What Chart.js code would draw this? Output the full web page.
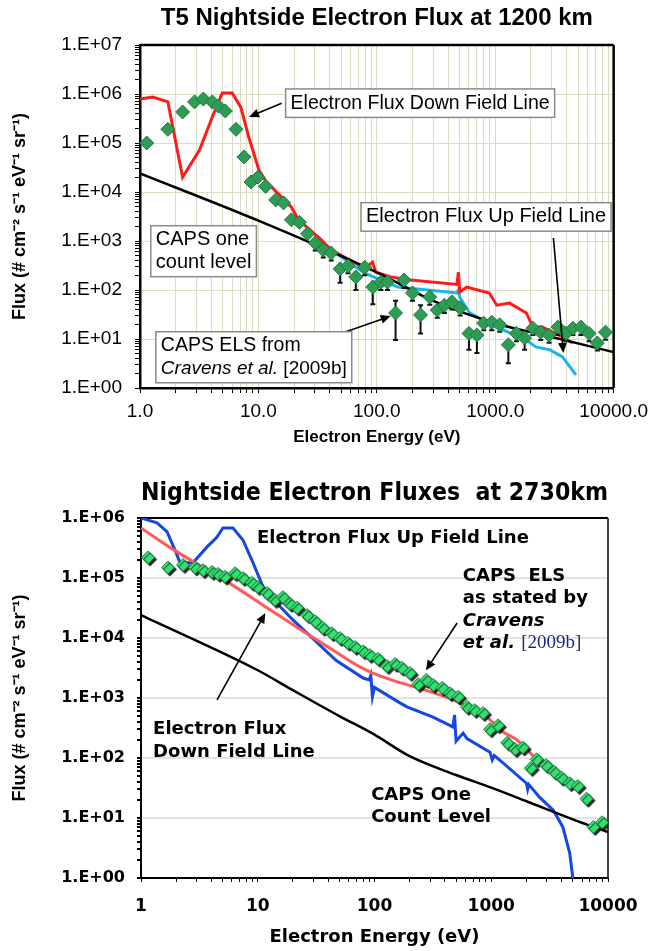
<!DOCTYPE html>
<html lang="en">
<head>
<meta charset="UTF-8">
<title>Nightside electron flux</title>
<style>
  html, body { margin: 0; padding: 0; background: #fff; }
  body { width: 655px; height: 951px; position: relative; overflow: hidden; }
  .panel { position: absolute; left: 0; width: 655px; }
  #top { top: 0; height: 460px; }
  #bottom { top: 460px; height: 491px; }
</style>
</head>
<body>
<div class="panel" id="top"><canvas id="t5Chart" width="655" height="460"></canvas></div>
<div class="panel" id="bottom"><canvas id="n2730Chart" width="655" height="491"></canvas></div>
<script src="https://cdn.jsdelivr.net/npm/chart.js"></script>
<script>
// ---- top panel: T5 at 1200 km ----
const t5XTickLabels = ['1.0', '10.0', '100.0', '1000.0', '10000.0'];
const t5YTickLabels = ['1.E+00', '1.E+01', '1.E+02', '1.E+03', '1.E+04', '1.E+05', '1.E+06', '1.E+07'];

const t5DownE = [1.0, 1.28, 1.72, 2.29, 3.18, 4.08, 4.95, 6.0, 7.1, 8.3, 10.1, 11.5, 19.0, 21.8, 34, 41, 79, 92, 98, 131, 192, 475, 488, 502, 575, 890, 1030, 1320, 1830, 2080, 2500, 3700, 4500];
const t5DownFlux = [7.9e5, 8.7e5, 6.9e5, 2.0e4, 7.2e4, 3.4e5, 1.05e6, 1.05e6, 5.4e5, 1.3e5, 2.8e4, 1.7e4, 4.9e3, 2.7e3, 1.05e3, 6.6e2, 2.8e2, 3.7e2, 2.3e2, 1.85e2, 1.6e2, 1.3e2, 2.3e2, 9.1e1, 1.15e2, 8.7e1, 4.9e1, 5.4e1, 3.4e1, 1.75e1, 1.75e1, 1.1e1, 8.3];

const t5UpE = [39, 79, 150, 475, 488, 502, 610, 1030, 1830, 2200, 2900, 3700, 4800];
const t5UpFlux = [7.2e2, 2.2e2, 1.15e2, 8.7e1, 1.0e2, 7.0e1, 3.4e1, 1.75e1, 9.5, 6.9, 6.0, 4.3, 1.85];

const t5CountE = [1, 10, 100, 300, 1000, 3000, 10000];
const t5CountFlux = [2.4e4, 2.6e3, 2.3e2, 6.0e1, 2.1e1, 1.1e1, 5.4];

const t5ElsE = [1.14, 1.72, 2.29, 2.89, 3.43, 4.08, 4.58, 5.25, 6.47, 7.56, 8.66, 9.9, 11.5, 14.0, 16.3, 19.0, 22.2, 26.0, 30.2, 35.3, 41.2, 49, 57, 66.5, 79, 92.5, 108, 123, 144, 170, 200, 234, 280, 324, 372, 432, 505, 600, 700, 800, 935, 1090, 1290, 1510, 1770, 2080, 2420, 2850, 3380, 3960, 4530, 5290, 6200, 7280, 8530];
const t5ElsFlux = [1.0e5, 1.9e5, 4.3e5, 6.9e5, 7.9e5, 6.9e5, 5.7e5, 4.5e5, 1.9e5, 5.2e4, 1.6e4, 2.0e4, 1.3e4, 6.9e3, 6.0e3, 2.7e3, 2.4e3, 1.4e3, 9.1e2, 6.6e2, 5.7e2, 2.7e2, 3.1e2, 1.85e2, 2.9e2, 1.15e2, 1.45e2, 1.45e2, 3.4e1, 1.6e2, 8.7e1, 3.1e1, 7.2e1, 3.9e1, 4.9e1, 5.7e1, 4.3e1, 1.3e1, 1.2e1, 2.1e1, 2.2e1, 1.95e1, 7.6, 1.3e1, 1.05e1, 1.66e1, 1.38e1, 1.2e1, 1.75e1, 1.3e1, 1.66e1, 1.75e1, 1.3e1, 8.3, 1.38e1];
// error bar ends (null = none)
const t5ElsLow = [null, null, null, null, null, null, null, null, null, null, null, null, null, null, null, null, null, null, 6.4e2, 4.6e2, 4.0e2, 1.4e2, 2.2e2, 1.0e2, 2.0e2, 5.1e1, 1.0e2, 1.0e2, 9.5, 1.1e2, 6.0e1, 1.3e1, 5.0e1, 2.7e1, 3.4e1, 4.0e1, 3.0e1, 6.0, 5.2, 1.5e1, 1.5e1, 1.4e1, 3.2, 9.0, 6.0, 1.2e1, 9.5, 8.4, 1.2e1, 9.0, 1.2e1, 1.2e1, 9.0, 5.8, 9.7];
const t5ElsHigh = [null, null, null, null, null, null, null, null, null, null, null, null, null, null, null, null, null, null, null, null, null, null, null, null, null, null, null, null, 6.0e1, null, null, 4.9e1, null, null, null, null, null, null, null, null, null, null, null, null, null, null, null, null, null, null, null, null, null, null, null];

// ---- bottom panel: 2730 km ----
const n2XTickLabels = ['1', '10', '100', '1000', '10000'];
const n2YTickLabels = ['1.E+00', '1.E+01', '1.E+02', '1.E+03', '1.E+04', '1.E+05', '1.E+06'];

const n2UpE = [1, 1.37, 1.67, 1.95, 2.16, 2.79, 3.68, 4.48, 5.03, 6.14, 7.47, 9.1, 11.1, 14.6, 20, 30, 47, 80, 90, 93, 96, 100, 165, 190, 317, 470, 485, 500, 574, 620, 975, 1020, 1060, 1260, 2000, 2050, 2100, 2600, 3400, 4100, 4700, 5000, 5100];
const n2UpFlux = [1.0e6, 8.3e5, 5.9e5, 2.95e5, 1.8e5, 1.8e5, 3.3e5, 4.8e5, 6.8e5, 6.8e5, 4.3e5, 1.8e5, 7.1e4, 3.8e4, 2.0e4, 9.6e3, 4.2e3, 2.15e3, 2.0e3, 2.4e3, 1.05e3, 1.5e3, 8.3e2, 7.1e2, 4.8e2, 3.3e2, 5.2e2, 1.9e2, 2.6e2, 2.1e2, 1.25e2, 9.3e1, 1.1e2, 8.3e1, 3.8e1, 3.0e1, 3.6e1, 2.2e1, 1.35e1, 7.1, 2.6, 1.0, 0.7];

const n2DownE = [1, 1.88, 5.45, 12, 23, 44, 75, 97, 165, 230, 470, 920, 1200, 1660, 2270, 3850, 5800];
const n2DownFlux = [6.8e5, 3.0e5, 8.7e4, 3.2e4, 1.4e4, 6.3e3, 3.3e3, 2.6e3, 1.8e3, 1.5e3, 9.3e2, 4.8e2, 2.9e2, 2.0e2, 1.1e2, 4.8e1, 2.9e1];

const n2CountE = [1, 10, 20, 50, 100, 200, 500, 1000, 2000, 5000, 10000];
const n2CountFlux = [2.4e4, 2.9e3, 1.35e3, 5.0e2, 2.45e2, 1.07e2, 5.2e1, 3.2e1, 1.9e1, 9.5, 5.8];

const n2ElsE = [1.15, 1.70, 2.29, 2.9, 3.4, 4.05, 4.57, 5.24, 6.38, 7.47, 8.9, 10, 12, 14, 16.4, 18.9, 21.7, 26.5, 31, 36, 43, 50.5, 59, 68, 80, 91, 107, 128, 150, 171, 201, 237, 277, 318, 380, 443, 520, 620, 720, 850, 975, 1140, 1370, 1600, 1860, 2180, 2450, 2950, 3460, 4000, 4700, 5500, 6550, 7500, 8900];
const n2ElsFlux = [2.2e5, 1.5e5, 1.65e5, 1.5e5, 1.35e5, 1.26e5, 1.17e5, 1.05e5, 1.2e5, 1.0e5, 8.3e4, 7.1e4, 5.6e4, 4.3e4, 4.8e4, 3.7e4, 3.2e4, 2.4e4, 1.9e4, 1.48e4, 1.2e4, 1.0e4, 8.3e3, 7.1e3, 6.0e3, 5.2e3, 4.5e3, 3.4e3, 3.7e3, 3.2e3, 2.6e3, 1.7e3, 2.0e3, 1.65e3, 1.48e3, 1.2e3, 1.05e3, 7.1e2, 6.3e2, 5.6e2, 3.0e2, 3.5e2, 1.8e2, 1.4e2, 1.5e2, 6.8e1, 9.5e1, 7.6e1, 5.9e1, 4.7e1, 3.8e1, 3.4e1, 2.1e1, 7.1, 8.5];

const ARIAL = '"Liberation Sans", Arial, sans-serif';
const VERD = '"DejaVu Sans", Verdana, sans-serif';
Chart.defaults.font.family = ARIAL;
Chart.defaults.color = '#000';

function pts(xs, ys) {
  return xs.map((x, i) => ({ x: x, y: ys[i] }));
}
function isDecade(v) {
  const l = Math.log10(v);
  return Math.abs(l - Math.round(l)) < 1e-6;
}
// 1..9 per decade, so minor ticks and grid are drawn at every step
function logTicks(scale) {
  const lo = Math.round(Math.log10(scale.min)), hi = Math.round(Math.log10(scale.max));
  const ticks = [];
  for (let e = lo; e <= hi; e++) {
    for (let m = 1; m <= 9; m++) {
      if (e === hi && m > 1) break;
      ticks.push({ value: m * Math.pow(10, e), major: m === 1 });
    }
  }
  scale.ticks = ticks;
}
function labelFrom(list) {
  return v => isDecade(v) ? list[Math.round(Math.log10(v))] : '';
}

function drawArrow(ctx, x1, y1, x2, y2) {
  const a = Math.atan2(y2 - y1, x2 - x1), hl = 10, hw = 4.5;
  ctx.strokeStyle = '#000'; ctx.fillStyle = '#000'; ctx.lineWidth = 1.6;
  ctx.beginPath();
  ctx.moveTo(x1, y1);
  ctx.lineTo(x2 - Math.cos(a) * hl * 0.8, y2 - Math.sin(a) * hl * 0.8);
  ctx.stroke();
  ctx.beginPath();
  ctx.moveTo(x2, y2);
  ctx.lineTo(x2 - Math.cos(a) * hl - Math.sin(a) * hw, y2 - Math.sin(a) * hl + Math.cos(a) * hw);
  ctx.lineTo(x2 - Math.cos(a) * hl + Math.sin(a) * hw, y2 - Math.sin(a) * hl - Math.cos(a) * hw);
  ctx.closePath();
  ctx.fill();
}

// text labels and arrows, anchored in data coordinates
function makeNotes(id, notes) {
  return {
    id: id,
    afterDatasetsDraw(chart) {
      const ctx = chart.ctx, xs = chart.scales.x, ys = chart.scales.y;
      const px = p => [xs.getPixelForValue(p[0]), ys.getPixelForValue(p[1])];
      ctx.save();
      notes.arrows.forEach(a => {
        const p1 = px(a.from), p2 = px(a.to);
        drawArrow(ctx, p1[0], p1[1], p2[0], p2[1]);
      });
      notes.labels.forEach(l => {
        const p = px(l.at), lh = l.lineH || notes.lineH;
        const widths = l.lines.map(line => line.reduce((w, s) => {
          ctx.font = s.font || notes.font;
          return w + ctx.measureText(s.t).width;
        }, 0));
        if (l.box) {
          const w = Math.max.apply(null, widths) + 2 * notes.padX;
          const h = l.lines.length * lh + 2 * notes.padY;
          const bx = p[0] - notes.padX, by = p[1] - lh / 2 - notes.padY;
          ctx.fillStyle = '#fff';
          ctx.fillRect(bx, by, w, h);
          ctx.strokeStyle = '#8a8a8a'; ctx.lineWidth = 1.5;
          ctx.strokeRect(bx, by, w, h);
        }
        ctx.textBaseline = 'middle'; ctx.textAlign = 'left';
        l.lines.forEach((line, i) => {
          let cx = p[0];
          const cy = p[1] + i * lh;
          line.forEach(s => {
            ctx.font = s.font || notes.font;
            ctx.fillStyle = s.color || '#000';
            ctx.fillText(s.t, cx, cy);
            cx += ctx.measureText(s.t).width;
          });
        });
      });
      ctx.restore();
    }
  };
}

function makeFrame(id, sides) {
  return {
    id: id,
    beforeDatasetsDraw(chart) {
      const { ctx, chartArea: a } = chart;
      ctx.save();
      sides.forEach(s => {
        ctx.strokeStyle = s.color; ctx.lineWidth = s.width;
        ctx.beginPath();
        if (s.side === 'top') { ctx.moveTo(a.left, a.top); ctx.lineTo(a.right, a.top); }
        if (s.side === 'right') { ctx.moveTo(a.right, a.top); ctx.lineTo(a.right, a.bottom); }
        ctx.stroke();
      });
      ctx.restore();
    }
  };
}

// whiskers under the ELS diamonds (drawn just before the diamonds)
const t5Errors = {
  id: 't5Errors',
  beforeDatasetDraw(chart, args) {
    if (args.index !== 0) return;
    const ctx = chart.ctx, xs = chart.scales.x, ys = chart.scales.y;
    ctx.save();
    ctx.strokeStyle = '#111'; ctx.lineWidth = 2;
    t5ElsE.forEach((e, i) => {
      const x = xs.getPixelForValue(e), y = ys.getPixelForValue(t5ElsFlux[i]);
      [t5ElsLow[i], t5ElsHigh[i]].forEach(end => {
        if (end == null) return;
        const ye = ys.getPixelForValue(end);
        ctx.beginPath();
        ctx.moveTo(x, y); ctx.lineTo(x, ye);
        ctx.moveTo(x - 2.5, ye); ctx.lineTo(x + 2.5, ye);
        ctx.stroke();
      });
    });
    ctx.restore();
  }
};

const glow = {
  id: 'glow',
  beforeDatasetDraw(chart, args) {
    if (!chart.data.datasets[args.index].glow) return;
    chart.ctx.save();
    chart.ctx.shadowColor = 'rgba(0,0,0,0.85)';
    chart.ctx.shadowOffsetX = 2; chart.ctx.shadowOffsetY = 2; chart.ctx.shadowBlur = 1;
  },
  afterDatasetDraw(chart, args) {
    if (!chart.data.datasets[args.index].glow) return;
    chart.ctx.restore();
  }
};

const line = (data, color, width, smooth) => ({
  data: data, showLine: true, pointRadius: 0, borderColor: color, borderWidth: width, fill: false,
  cubicInterpolationMode: smooth ? 'monotone' : 'default', tension: 0
});

// ---------------- top chart ----------------
const t5Grid = '#dcdcc2';
new Chart(document.getElementById('t5Chart'), {
  type: 'scatter',
  data: {
    datasets: [
      { label: 'CAPS ELS', data: pts(t5ElsE, t5ElsFlux), pointStyle: 'rectRot', pointRadius: 7, backgroundColor: '#2f9c56', borderColor: '#1d7a40', borderWidth: 1 },
      Object.assign({ label: 'CAPS one count level' }, line(pts(t5CountE, t5CountFlux), '#000', 2.5, true)),
      Object.assign({ label: 'Electron Flux Down Field Line' }, line(pts(t5DownE, t5DownFlux), '#ff1a1a', 3)),
      Object.assign({ label: 'Electron Flux Up Field Line' }, line(pts(t5UpE, t5UpFlux), '#19b4ea', 3))
    ]
  },
  options: {
    responsive: false, animation: false, events: [],
    layout: { padding: { left: 0, right: 37, top: 0, bottom: 0 } },
    plugins: {
      legend: { display: false },
      tooltip: { enabled: false },
      title: {
        display: true, fullSize: false, text: 'T5 Nightside Electron Flux at 1200 km', color: '#000',
        font: { family: ARIAL, size: 24, weight: 'bold', lineHeight: 1.2 },
        padding: { top: 3.6, bottom: 12.6 }
      }
    },
    scales: {
      x: {
        type: 'logarithmic', min: 1, max: 1e4,
        afterBuildTicks: logTicks,
        afterFit: s => { s.height = 72; },
        grid: { color: t5Grid, lineWidth: 1, tickColor: '#000', tickLength: 5 },
        border: { color: '#000', width: 2.5 },
        ticks: { autoSkip: false, maxRotation: 0, color: '#000', font: { family: ARIAL, size: 19 }, padding: 7, callback: labelFrom(t5XTickLabels) },
        title: { display: true, text: 'Electron Energy (eV)', color: '#000', font: { family: ARIAL, size: 17, weight: 'bold', lineHeight: 1.2 }, padding: { top: 0, bottom: 12.8 } }
      },
      y: {
        type: 'logarithmic', min: 1, max: 1e7,
        afterBuildTicks: logTicks,
        afterFit: s => { s.width = 140; },
        grid: { color: c => (c.tick && isDecade(c.tick.value)) ? t5Grid : 'rgba(0,0,0,0)', lineWidth: 1, tickColor: '#000', tickLength: 5 },
        border: { color: '#000', width: 2.5 },
        ticks: { autoSkip: false, color: '#000', font: { family: ARIAL, size: 19 }, padding: 13, callback: labelFrom(t5YTickLabels) },
        title: { display: true, text: 'Flux (# cm⁻² s⁻¹ eV⁻¹ sr⁻¹)', color: '#000', font: { family: ARIAL, size: 18, weight: 'bold', lineHeight: 1.2 }, padding: { top: 9.2, bottom: 0 } }
      }
    }
  },
  plugins: [
    makeFrame('t5Frame', [{ side: 'top', color: '#000', width: 2.5 }, { side: 'right', color: '#000', width: 2.5 }]),
    t5Errors,
    makeNotes('t5Notes', {
      font: '19.5px ' + ARIAL, lineH: 22.5, padX: 5, padY: 3,
      arrows: [
        { from: [15.7, 6.5e5], to: [8.33, 3.4e5] },
        { from: [3100, 1.15e3], to: [3760, 5.2] },
        { from: [54, 13.9], to: [131, 29.5] }
      ],
      labels: [
        { at: [18.7, 6.5e5], box: true, lines: [[{ t: 'Electron Flux Down Field Line' }]] },
        { at: [81, 3.1e3], box: true, lines: [[{ t: 'Electron Flux Up Field Line', font: '20px ' + ARIAL }]] },
        { at: [1.36, 1.05e3], box: true, lines: [[{ t: 'CAPS one', font: '20px ' + ARIAL }], [{ t: 'count level', font: '20px ' + ARIAL }]] },
        { at: [1.5, 7.2], box: true, lines: [[{ t: 'CAPS ELS from' }], [{ t: 'Cravens et al.', font: 'italic 19px ' + ARIAL }, { t: ' [2009b]', font: '19px ' + ARIAL }]] }
      ]
    })
  ]
});

// ---------------- bottom chart ----------------
new Chart(document.getElementById('n2730Chart'), {
  type: 'scatter',
  data: {
    datasets: [
      { label: 'CAPS ELS', data: pts(n2ElsE, n2ElsFlux), pointStyle: 'rectRot', pointRadius: 6.5, backgroundColor: '#35e073', borderColor: '#1a8a3c', borderWidth: 1, glow: true },
      Object.assign({ label: 'CAPS One Count Level' }, line(pts(n2CountE, n2CountFlux), '#000', 2.5, true)),
      Object.assign({ label: 'Electron Flux Down Field Line' }, line(pts(n2DownE, n2DownFlux), '#ff5b5b', 3, true)),
      Object.assign({ label: 'Electron Flux Up Field Line' }, line(pts(n2UpE, n2UpFlux), '#1448e0', 3))
    ]
  },
  options: {
    responsive: false, animation: false, events: [],
    layout: { padding: { left: 0, right: 47, top: 0, bottom: 0 } },
    plugins: {
      legend: { display: false },
      tooltip: { enabled: false },
      title: {
        display: true, fullSize: false, text: 'Nightside Electron Fluxes  at 2730km', color: '#000',
        font: { family: VERD, size: 25, weight: 'bold', lineHeight: 1.2 },
        padding: { top: 18, bottom: 10 }
      }
    },
    scales: {
      x: {
        type: 'logarithmic', min: 1, max: 1e4,
        afterBuildTicks: logTicks,
        afterFit: s => { s.height = 73; },
        grid: { color: 'rgba(0,0,0,0)', tickColor: '#000', tickLength: 4 },
        border: { color: '#000', width: 2 },
        ticks: { autoSkip: false, maxRotation: 0, color: '#000', font: { family: VERD, size: 17, weight: 'bold' }, padding: 14, callback: labelFrom(n2XTickLabels) },
        title: { display: true, text: 'Electron Energy (eV)', color: '#000', font: { family: VERD, size: 18, weight: 'bold', lineHeight: 1.2 }, padding: { top: 0, bottom: 3.2 } }
      },
      y: {
        type: 'logarithmic', min: 1, max: 1e6,
        afterBuildTicks: logTicks,
        afterFit: s => { s.width = 141; },
        grid: { color: c => (c.tick && isDecade(c.tick.value)) ? '#e3e3e3' : 'rgba(0,0,0,0)', lineWidth: 2, tickColor: '#000', tickLength: 4 },
        border: { color: '#000', width: 2 },
        ticks: { autoSkip: false, color: '#000', font: { family: VERD, size: 16, weight: 'bold' }, padding: 12, callback: labelFrom(n2YTickLabels) },
        title: { display: true, text: 'Flux (# cm⁻² s⁻¹ eV⁻¹ sr⁻¹)', color: '#000', font: { family: ARIAL, size: 18, weight: 'bold', lineHeight: 1.2 }, padding: { top: 9.2, bottom: 0 } }
      }
    }
  },
  plugins: [
    makeFrame('n2Frame', [{ side: 'top', color: '#000', width: 2 }, { side: 'right', color: '#444', width: 2 }]),
    glow,
    makeNotes('n2Notes', {
      font: 'bold 18px ' + VERD, lineH: 22.3, padX: 0, padY: 0,
      arrows: [
        { from: [510, 1.78e4], to: [276, 2.9e3] },
        { from: [4.48, 9.3e2], to: [11.6, 2.6e4] }
      ],
      labels: [
        { at: [9.85, 4.5e5], lines: [[{ t: 'Electron Flux Up Field Line' }]] },
        { at: [570, 1.07e5], lines: [[{ t: 'CAPS  ELS' }], [{ t: 'as stated by' }], [{ t: 'Cravens', font: 'italic bold 18px ' + VERD }],
          [{ t: 'et al.', font: 'italic bold 18px ' + VERD }, { t: ' ' }, { t: '[2009b]', font: '19px "Liberation Serif", serif', color: '#1b2b7c' }]] },
        { at: [1.27, 3.0e2], lineH: 23, lines: [[{ t: 'Electron Flux' }], [{ t: 'Down Field Line' }]] },
        { at: [93.6, 24], lines: [[{ t: 'CAPS One' }], [{ t: 'Count Level' }]] }
      ]
    })
  ]
});
</script>
</body>
</html>
